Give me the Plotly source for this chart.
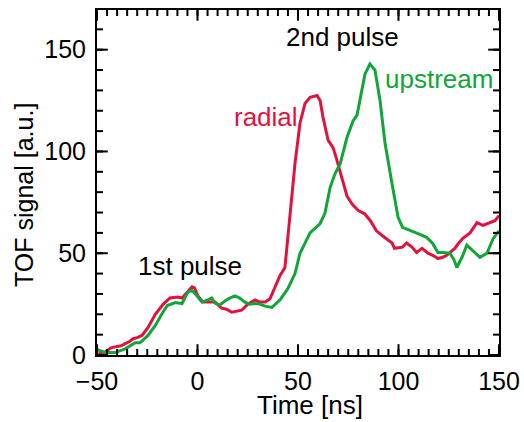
import plotly.graph_objects as go

# radial (red) signal
radial_t = [-50, -48, -46, -43, -41, -38, -36, -34, -32, -30, -27.6, -24.6, -21, -17, -13.7, -10, -7.7, -5, -2.7, -1.5,
            0.2, 2.7, 5, 8.7, 12, 14.5, 17, 19.5, 22, 25, 28.6, 31, 33.6, 36, 38.5, 41, 43.5, 46, 48.5, 51, 53.5, 56, 59.5,
            61, 62.4, 65, 67.4, 69, 71, 72.4, 74.4, 77, 80, 83, 86, 89, 92, 94, 96.8, 98, 100.7, 102, 104, 106.7, 109,
            111.7, 114.7, 117, 119.6, 122, 124, 126, 128, 130, 132, 135.6, 139, 142, 145.5, 148, 150]
radial_v = [0, 1, 1.5, 3.5, 4, 4.5, 5.6, 6.5, 8, 8.5, 9.6, 13.5, 20, 25, 28, 28.5, 28, 31, 33.5, 33,
            29, 26, 26, 26, 23, 22.5, 21, 21.5, 22, 25, 27, 26, 26, 27.5, 33, 39, 43, 69.5, 94, 114, 123.6, 126.6, 127.5,
            125, 117, 105.4, 102, 97, 90.6, 85, 78, 74, 71, 69.5, 66, 61, 58.6, 57, 55, 52.4, 53, 53, 55, 53, 50.4,
            52.4, 50, 49, 47.4, 48, 49, 50.5, 52.4, 55, 57.3, 60, 65, 63.7, 65, 66, 68.5]

# upstream (green) signal
upstream_t = [-50, -48, -46, -41, -36, -31, -28.6, -24.6, -21, -17.6, -15, -11, -7.7, -4.7, -2.7, -0.2, 2.2,
              5, 7, 8.7, 11, 13.7, 16, 18.7, 21, 23.6, 26, 28.6, 31, 33.6, 37, 41, 45, 48.5, 51, 56, 61, 63.4,
              66, 68.4, 71, 74.4, 77.4, 79.4, 80.8, 83.3, 85.8, 88.3, 90.8, 93.3, 96.8, 99.8, 102, 106.7, 109.7,
              114, 117, 119.6, 122, 125.6, 127.5, 129, 131.6, 134, 137, 140.5, 144, 147, 150]
upstream_v = [2.7, 2, 1.2, 1.2, 3, 6, 6, 9.6, 14.5, 20.4, 24.3, 25.8, 25.3, 31, 31.7, 29, 26,
              27, 28, 25.5, 24.5, 26.5, 28, 29, 28, 26, 25, 25.3, 25, 24, 23.4, 27, 32.7, 40, 50, 60, 64.6, 69.6,
              82.4, 89, 94, 107, 115, 118, 125, 138, 143, 140, 125, 104, 84, 67.6, 62.7, 61, 59.6,
              57.8, 54.8, 50.4, 50.4, 50, 47, 43, 48, 54, 51.4, 48, 50, 57, 61]

x_major = [-50, 0, 50, 100, 150]
y_major = [0, 50, 100, 150]
x_minor = list(range(-45, 150, 5))
y_minor = list(range(10, 170, 10))

X_RANGE = [-50, 150]
Y_RANGE = [0, 169.5]

RED = "#E2123F"
GREEN = "#12A538"
FONT = "Liberation Sans, Arial, sans-serif"

W, H = 524, 422
ML, MR, MT, MB = 97, 25, 10, 67
PW, PH = W - ML - MR, H - MT - MB
XU = (X_RANGE[1] - X_RANGE[0]) / PW   # data units per pixel
YU = (Y_RANGE[1] - Y_RANGE[0]) / PH

fig = go.Figure()
fig.add_trace(go.Scatter(x=radial_t, y=radial_v, mode="lines", line=dict(color=RED, width=3), name="radial"))
fig.add_trace(go.Scatter(x=upstream_t, y=upstream_v, mode="lines", line=dict(color=GREEN, width=3), name="upstream"))

# inside tick marks on all four sides, drawn as line-shaped markers from the tick value lists
for vals, ln in ((x_major, 9), (x_minor, 5)):
    xs = [v for v in vals for _ in (0, 1)]
    ys = [y for _ in vals for y in (Y_RANGE[0] + ln / 2 * YU, Y_RANGE[1] - ln / 2 * YU)]
    fig.add_trace(go.Scatter(x=xs, y=ys, mode="markers", cliponaxis=False, hoverinfo="skip",
                             marker=dict(symbol="line-ns", size=ln, color="black",
                                         line=dict(color="black", width=2))))
for vals, ln in ((y_major, 9), (y_minor, 5)):
    ys = [v for v in vals for _ in (0, 1)]
    xs = [x for _ in vals for x in (X_RANGE[0] + ln / 2 * XU, X_RANGE[1] - ln / 2 * XU)]
    fig.add_trace(go.Scatter(x=xs, y=ys, mode="markers", cliponaxis=False, hoverinfo="skip",
                             marker=dict(symbol="line-ew", size=ln, color="black",
                                         line=dict(color="black", width=2))))

ann_font = dict(family=FONT, size=26)
fig.add_annotation(x=34, y=116.8, text="radial", showarrow=False, font=dict(ann_font, color=RED))
fig.add_annotation(x=120, y=135.5, text="upstream", showarrow=False, font=dict(ann_font, color=GREEN))
fig.add_annotation(x=72, y=156, text="2nd pulse", showarrow=False, font=dict(ann_font, color="black"))
fig.add_annotation(x=-3.7, y=43.5, text="1st pulse", showarrow=False, font=dict(ann_font, color="black"))

# axis titles
fig.add_annotation(x=(309.5 - ML) / PW, y=-(405 - MT - PH) / PH, xref="paper", yref="paper",
                   xanchor="center", yanchor="middle",
                   text="Time [ns]", showarrow=False, font=dict(family=FONT, size=26, color="black"))
fig.add_annotation(x=-(ML - 24) / PW, y=(H - MB - 195) / PH, xref="paper", yref="paper", textangle=-90,
                   xanchor="center", yanchor="middle",
                   text="TOF signal [a.u.]", showarrow=False, font=dict(family=FONT, size=25, color="black"))

axis_common = dict(
    showgrid=False, zeroline=False, showline=True, linecolor="black", linewidth=2,
    mirror=True, ticks="", tickfont=dict(family=FONT, size=25, color="black"), automargin=False,
)
fig.update_xaxes(range=X_RANGE, tickmode="array", tickvals=x_major, ticklabelstandoff=3, **axis_common)
fig.update_yaxes(range=Y_RANGE, tickmode="array", tickvals=y_major, ticklabelstandoff=4, **axis_common)

fig.update_layout(
    width=W, height=H, showlegend=False,
    margin=dict(l=ML, r=MR, t=MT, b=MB),
    plot_bgcolor="white", paper_bgcolor="white",
)
fig.write_html("out.html", config={"displayModeBar": False},
               post_script="document.body.style.margin='0';")
